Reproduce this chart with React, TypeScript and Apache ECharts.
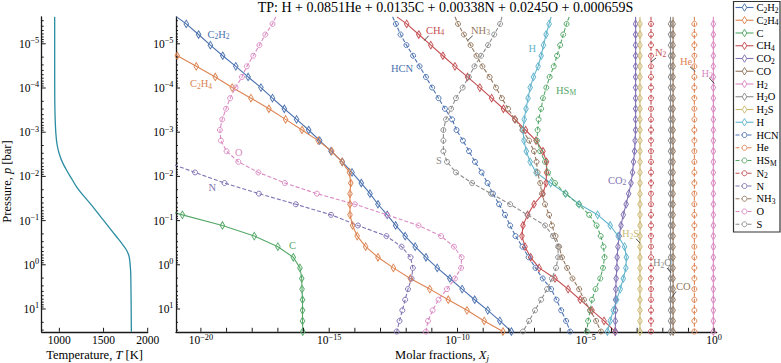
import React, { useEffect, useRef } from "react";
import * as echarts from "echarts";

const FONT = "'Liberation Serif', 'Times New Roman', 'DejaVu Serif', serif";
const AXIS = "#1a1a1a";

// ---------- axes extents (log10 units) ----------
const P_MIN_LOG = -5.611;
const P_MAX_LOG = 1.516;
const X_MIN_LOG = -20.97;
const X_MAX_LOG = 0.1;
const T_MIN = 800;
const T_MAX = 2000;

// ---------- tick labels ----------
const X_TICK_EXP = [-20, -19, -18, -17, -16, -15, -14, -13, -12, -11, -10, -9, -8, -7, -6, -5, -4, -3, -2, -1, 0];
const X_LABEL_EXP = [-20, -15, -10, -5, 0];
const Y_LABEL_EXP = [-5, -4, -3, -2, -1, 0, 1];
const Y_DECADES = [-6, -5, -4, -3, -2, -1, 0, 1];
const MINOR_MULT = [2, 3, 4, 5, 6, 7, 8, 9];
const T_TICKS = [1000, 1500, 2000];

// ---------- temperature profile ----------
const T_LOG_P = [-5.61, -4.5, -3.73, -3.39, -2.98, -2.71, -2.53, -2.34, -2.15, -1.96, -1.77, -1.58, -1.4, -1.21, -1.02, -0.83, -0.64, -0.49, -0.34, -0.22, -0.11, 0.04, 0.19, 0.8, 1.516];
const T_K = [947, 947, 948, 951, 960, 975, 996, 1030, 1079, 1135, 1193, 1265, 1343, 1420, 1494, 1570, 1645, 1705, 1758, 1785, 1796, 1803, 1808, 1812, 1815];

// ---------- pressure levels, log10 p [bar] ----------
const LOG_P = [-5.61, -5.45, -5.21, -4.97, -4.73, -4.49, -4.25, -4.01, -3.77, -3.53, -3.29, -3.05, -2.81, -2.57, -2.33, -2.09, -1.85, -1.61, -1.37, -1.13, -0.89, -0.65, -0.41, -0.17, 0.07, 0.31, 0.55, 0.79, 1.03, 1.27, 1.51];

// ---------- log10 molar fractions at LOG_P ----------
const C2H2 = [-20.95, -20.57, -20.09, -19.63, -19.15, -18.64, -18.16, -17.66, -17.21, -16.75, -16.27, -15.8, -15.37, -14.93, -14.49, -14.11, -13.75, -13.41, -13.1, -12.74, -12.41, -12.04, -11.65, -11.23, -10.79, -10.3, -9.82, -9.33, -8.82, -8.35, -7.9];
const C2H4 = [-23.62, -23.11, -22.37, -21.65, -20.92, -20.18, -19.44, -18.78, -18.05, -17.35, -16.7, -16.06, -15.43, -14.9, -14.5, -14.21, -14.16, -14.19, -14.19, -14.19, -14.09, -13.91, -13.58, -13.1, -12.5, -11.84, -11.08, -10.36, -9.63, -8.96, -8.23];
const C = [-44, -43, -42, -41, -40, -39, -38, -37, -36, -35, -34, -33, -32, -31, -30, -28, -26, -24, -22.3, -20.72, -19.16, -17.92, -17.0, -16.4, -16.14, -16.07, -16.06, -16.04, -16.04, -16.04, -16.03];
const CH4 = [-12.36, -11.98, -11.51, -11.04, -10.57, -10.1, -9.61, -9.13, -8.67, -8.21, -7.76, -7.35, -6.94, -6.67, -6.53, -6.53, -6.55, -6.67, -7.02, -7.27, -7.45, -7.49, -7.37, -7.15, -6.82, -6.2, -5.69, -5.22, -4.76, -4.29, -3.86];
const CO2 = [-3.06, -3.06, -3.06, -3.06, -3.06, -3.06, -3.06, -3.06, -3.06, -3.06, -3.06, -3.06, -3.08, -3.1, -3.14, -3.18, -3.24, -3.33, -3.43, -3.54, -3.63, -3.7, -3.75, -3.78, -3.79, -3.82, -3.83, -3.84, -3.84, -3.85, -3.85];
const CO = [-1.6, -1.6, -1.6, -1.6, -1.6, -1.6, -1.6, -1.6, -1.6, -1.6, -1.6, -1.6, -1.6, -1.6, -1.6, -1.6, -1.6, -1.6, -1.6, -1.6, -1.6, -1.6, -1.6, -1.6, -1.6, -1.6, -1.6, -1.6, -1.6, -1.6, -1.6];
const H2 = [-0.03, -0.03, -0.03, -0.03, -0.03, -0.03, -0.03, -0.03, -0.03, -0.03, -0.03, -0.03, -0.03, -0.03, -0.03, -0.03, -0.03, -0.03, -0.03, -0.03, -0.03, -0.03, -0.03, -0.03, -0.03, -0.03, -0.03, -0.03, -0.03, -0.03, -0.03];
const H2O = [-1.7, -1.7, -1.7, -1.7, -1.7, -1.7, -1.7, -1.7, -1.7, -1.7, -1.7, -1.7, -1.7, -1.7, -1.7, -1.7, -1.7, -1.7, -1.7, -1.7, -1.7, -1.7, -1.7, -1.7, -1.7, -1.7, -1.7, -1.7, -1.7, -1.7, -1.7];
const H2S = [-2.89, -2.89, -2.89, -2.89, -2.89, -2.89, -2.89, -2.89, -2.89, -2.89, -2.89, -2.89, -2.89, -2.89, -2.89, -2.89, -2.89, -2.89, -2.89, -2.89, -2.89, -2.89, -2.89, -2.89, -2.89, -2.89, -2.89, -2.89, -2.89, -2.89, -2.89];
const H = [-6.35, -6.43, -6.55, -6.65, -6.74, -6.86, -7.04, -7.17, -7.25, -7.33, -7.4, -7.45, -7.41, -7.32, -7.17, -6.94, -6.37, -5.79, -5.26, -4.54, -4.05, -3.74, -3.49, -3.42, -3.44, -3.54, -3.66, -3.8, -3.93, -4.05, -4.16];
const HCN = [-12.53, -12.4, -12.22, -11.99, -11.73, -11.48, -11.23, -10.99, -10.74, -10.49, -10.21, -10.04, -9.79, -9.55, -9.32, -9.06, -8.83, -8.62, -8.38, -8.15, -7.95, -7.74, -7.47, -7.23, -6.96, -6.68, -6.35, -6.14, -5.96, -5.77, -5.61];
const HE = [-0.77, -0.77, -0.77, -0.77, -0.77, -0.77, -0.77, -0.77, -0.77, -0.77, -0.77, -0.77, -0.77, -0.77, -0.77, -0.77, -0.77, -0.77, -0.77, -0.77, -0.77, -0.77, -0.77, -0.77, -0.77, -0.77, -0.77, -0.77, -0.77, -0.77, -0.77];
const HS_M = [-5.65, -5.75, -5.88, -6.0, -6.12, -6.25, -6.41, -6.54, -6.67, -6.74, -6.84, -6.88, -6.9, -6.78, -6.59, -6.47, -6.2, -5.79, -5.28, -4.87, -4.58, -4.42, -4.31, -4.27, -4.33, -4.44, -4.62, -4.76, -4.83, -4.91, -4.96];
const N2 = [-2.46, -2.46, -2.46, -2.46, -2.46, -2.46, -2.46, -2.46, -2.46, -2.46, -2.46, -2.46, -2.46, -2.46, -2.46, -2.46, -2.46, -2.46, -2.46, -2.46, -2.46, -2.46, -2.46, -2.46, -2.46, -2.46, -2.46, -2.46, -2.46, -2.46, -2.46];
const N = [-36.6, -35.8, -34.7, -33.6, -32.5, -31.4, -30.3, -29.1, -28.0, -26.9, -25.8, -24.7, -23.55, -22.46, -21.36, -20.23, -19.08, -17.74, -16.3, -14.93, -13.88, -12.77, -12.18, -11.83, -11.74, -11.79, -11.93, -12.04, -12.15, -12.26, -12.37];
const NH3 = [-10.1, -9.98, -9.75, -9.49, -9.26, -9.03, -8.75, -8.5, -8.27, -8.03, -7.76, -7.47, -7.21, -7.02, -6.92, -6.88, -6.78, -6.71, -6.59, -6.43, -6.32, -6.18, -6.04, -5.93, -5.73, -5.52, -5.26, -5.07, -4.83, -4.6, -4.41];
const O = [-17.08, -17.21, -17.49, -17.72, -17.96, -18.21, -18.4, -18.65, -18.86, -19.02, -19.17, -19.26, -19.22, -19.0, -18.54, -17.76, -16.73, -15.48, -14.0, -12.75, -11.52, -10.64, -10.14, -9.84, -9.86, -10.1, -10.41, -10.74, -10.97, -11.15, -11.23];
const S = [-8.27, -8.34, -8.57, -8.81, -9.08, -9.34, -9.56, -9.8, -10.06, -10.25, -10.45, -10.55, -10.55, -10.55, -10.41, -10.06, -9.43, -8.69, -7.95, -7.27, -6.59, -6.28, -6.08, -6.08, -6.16, -6.32, -6.51, -6.74, -6.98, -7.21, -7.45];

const SPECIES_NAMES = ["C2H2", "C2H4", "C", "CH4", "CO2", "CO", "H2", "H2O", "H2S", "H", "HCN", "He", "HS_M", "N2", "N", "NH3", "O", "S"];
const SPECIES_VALUES = [C2H2, C2H4, C, CH4, CO2, CO, H2, H2O, H2S, H, HCN, HE, HS_M, N2, N, NH3, O, S];
const PALETTE = ["#4C72B0", "#DD8452", "#55A868", "#C44E52", "#8172B3", "#937860", "#DA8BC3", "#8C8C8C", "#CCB974", "#64B5CD"];
const TITLE = "TP: H + 0.0851He + 0.0135C + 0.00338N + 0.0245O + 0.000659S";

// annotation placement (pixels): label left x, centre y, optional leader line
const ANNOTATIONS: { name: string; x: number; y: number; leader?: number[] }[] = [
  { name: "C2H2", x: 207.5, y: 34 },
  { name: "C2H4", x: 190, y: 83.5 },
  { name: "O", x: 235, y: 152.3 },
  { name: "N", x: 208.5, y: 187 },
  { name: "C", x: 289, y: 245.3 },
  { name: "HCN", x: 391, y: 68 },
  { name: "CH4", x: 426, y: 30, leader: [428.7, 35.7, 424.3, 40.5] },
  { name: "NH3", x: 471, y: 30, leader: [472.7, 35.7, 467.7, 40.5] },
  { name: "S", x: 436, y: 160.7 },
  { name: "H", x: 528.5, y: 48.5 },
  { name: "HS_M", x: 556, y: 90 },
  { name: "N2", x: 655, y: 52.3, leader: [656, 58, 651, 62] },
  { name: "He", x: 680, y: 61.7, leader: [690, 66.7, 695.3, 71.5] },
  { name: "H2", x: 701.5, y: 73.3, leader: [709.3, 78, 714.3, 83.5] },
  { name: "CO2", x: 608, y: 180.3 },
  { name: "H2S", x: 622, y: 233.7, leader: [636, 238.7, 640, 243] },
  { name: "H2O", x: 653, y: 262.7, leader: [667, 268, 671, 272.7] },
  { name: "CO", x: 676, y: 286, leader: [676, 291.5, 672.7, 296.3] },
];

function chem(name: string): string {
  const parts = name.match(/_[A-Za-z]+|[A-Za-z]+|\d+/g) || [];
  return parts
    .map((p) => (p.startsWith("_") ? `{s|${p.slice(1)}}` : /\d/.test(p) ? `{s|${p}}` : `{n|${p}}`))
    .join("");
}

function richFor(color: string, size: number) {
  return {
    n: { fontSize: size, fontFamily: FONT, fill: color, color, lineHeight: size * 1.1 },
    s: { fontSize: size * 0.72, fontFamily: FONT, fill: color, color, padding: [size * 0.5, 0, 0, 0] },
    i: { fontSize: size, fontFamily: FONT, fontStyle: "italic", fill: color, color, lineHeight: size * 1.1 },
    si: { fontSize: size * 0.72, fontFamily: FONT, fontStyle: "italic", fill: color, color, padding: [size * 0.5, 0, 0, 0] },
    e: { fontSize: size * 0.72, fontFamily: FONT, fill: color, color, padding: [0, 0, size * 0.55, 0] },
  };
}

const TICK_SIZE = 11.5;
const TICK_RICH = richFor("#000", TICK_SIZE);
const expLabel = (e: number) => `{n|10}{e|${e < 0 ? "\u2212" + -e : e}}`;

function tickSeries(xi: number, yi: number, orient: "x" | "y", fixed: number, values: number[], lens: number[], labels: string[]) {
  return {
    type: "custom",
    xAxisIndex: xi,
    yAxisIndex: yi,
    silent: true,
    z: 20,
    clip: false,
    data: values.map((v, i) => (orient === "x" ? [v, fixed, i] : [fixed, v, i])),
    renderItem: (params: any, api: any) => {
      const i = api.value(2);
      const pt = api.coord([api.value(0), api.value(1)]);
      const len = lens[i];
      const children: any[] = [];
      if (orient === "x") {
        children.push({ type: "line", shape: { x1: pt[0], y1: pt[1], x2: pt[0], y2: pt[1] - len }, style: { stroke: AXIS, lineWidth: 1 } });
      } else {
        children.push({ type: "line", shape: { x1: pt[0], y1: pt[1], x2: pt[0] + len, y2: pt[1] }, style: { stroke: AXIS, lineWidth: 1 } });
      }
      const lab = labels[i];
      if (lab) {
        children.push({
          type: "text",
          x: orient === "x" ? pt[0] : pt[0] - 2.5,
          y: orient === "x" ? pt[1] + 1.5 : pt[1],
          style: {
            text: lab,
            rich: TICK_RICH,
            fill: "#000",
            fontSize: TICK_SIZE,
            fontFamily: FONT,
            align: orient === "x" ? "center" : "right",
            verticalAlign: orient === "x" ? "top" : "middle",
          },
        });
      }
      return { type: "group", children };
    },
  };
}

function buildOption() {
  // y ticks (major + minor) in log10 p
  const yVals: number[] = [];
  const yLens: number[] = [];
  const yLabs: string[] = [];
  Y_DECADES.forEach((d) => {
    if (d >= P_MIN_LOG && d <= P_MAX_LOG) {
      yVals.push(d);
      yLens.push(4);
      yLabs.push(Y_LABEL_EXP.includes(d) ? expLabel(d) : "");
    }
    MINOR_MULT.forEach((m) => {
      const v = d + Math.log10(m);
      if (v >= P_MIN_LOG && v <= P_MAX_LOG) {
        yVals.push(v);
        yLens.push(2);
        yLabs.push("");
      }
    });
  });

  const axisCommon = {
    axisLine: { show: true, onZero: false, lineStyle: { color: AXIS, width: 1.3 } },
    axisTick: { show: false },
    axisLabel: { show: false },
    splitLine: { show: false },
  };

  const series: any[] = [];
  series.push({
    type: "line",
    xAxisIndex: 0,
    yAxisIndex: 0,
    data: T_K.map((t, i) => [t, T_LOG_P[i]]),
    showSymbol: false,
    smooth: 0.3,
    silent: true,
    lineStyle: { color: "#2a8ca0", width: 1.3 },
  });

  SPECIES_NAMES.forEach((name, k) => {
    const vals = SPECIES_VALUES[k];
    const color = PALETTE[k % 10];
    const dashed = k >= 10;
    series.push({
      type: "line",
      name,
      xAxisIndex: 1,
      yAxisIndex: 1,
      data: LOG_P.map((lp, i) => (i === 0 ? { value: [vals[i], lp], symbol: "none" } : [vals[i], lp])),
      symbol: dashed ? "circle" : "diamond",
      symbolSize: dashed ? 5 : [4.6, 7.5],
      showAllSymbol: true,
      clip: true,
      silent: true,
      lineStyle: { color, width: 1.1, type: dashed ? [4, 2] : "solid" },
      itemStyle: { color: "rgba(255,255,255,0)", borderColor: color, borderWidth: 0.95 },
      emphasis: { disabled: true },
    });
  });

  series.push(tickSeries(1, 1, "x", P_MAX_LOG, X_TICK_EXP, X_TICK_EXP.map(() => 4), X_TICK_EXP.map((e) => (X_LABEL_EXP.includes(e) ? expLabel(e) : ""))));
  series.push(tickSeries(1, 1, "y", X_MIN_LOG, yVals, yLens, yLabs));
  series.push(tickSeries(0, 0, "y", T_MIN, yVals, yLens, yLabs));
  series.push(tickSeries(0, 0, "x", P_MAX_LOG, T_TICKS, T_TICKS.map(() => 4), T_TICKS.map((t) => `{n|${t}}`)));

  // graphic: title, axis titles, annotations, legend
  const g: any[] = [];
  g.push({ type: "text", x: 445.5, y: 7, style: { text: TITLE, fill: "#000", fontSize: 14, fontFamily: FONT, align: "center", verticalAlign: "middle" } });
  const R = richFor("#000", 12.5);
  g.push({ type: "text", x: 94.5, y: 355, style: { text: "{n|Temperature, }{i|T}{n| [K]}", rich: R, fill: "#000", align: "center", verticalAlign: "middle" } });
  g.push({ type: "text", x: 442, y: 355, style: { text: "{n|Molar fractions, }{i|X}{si|j}", rich: R, fill: "#000", align: "center", verticalAlign: "middle" } });
  g.push({ type: "text", x: 7, y: 181.5, rotation: Math.PI / 2, style: { text: "{n|Pressure, }{i|p}{n| [bar]}", rich: R, fill: "#000", align: "center", verticalAlign: "middle" } });

  ANNOTATIONS.forEach((a) => {
    const k = SPECIES_NAMES.indexOf(a.name);
    const color = PALETTE[k % 10];
    g.push({ type: "text", x: a.x, y: a.y, z: 50, style: { text: chem(a.name), rich: richFor(color, 10.5), fill: color, align: "left", verticalAlign: "middle" } });
    if (a.leader) {
      g.push({ type: "line", z: 50, shape: { x1: a.leader[0], y1: a.leader[1], x2: a.leader[2], y2: a.leader[3] }, style: { stroke: "#222", lineWidth: 0.8 } });
    }
  });

  // legend
  const LX = 733.5, LY = 1.5, LW = 46.5, LH = 230.5, STEP = 12.75;
  g.push({ type: "rect", z: 60, shape: { x: LX, y: LY, width: LW, height: LH }, style: { fill: "#fff", stroke: "#333", lineWidth: 1.2 } });
  SPECIES_NAMES.forEach((name, k) => {
    const color = PALETTE[k % 10];
    const dashed = k >= 10;
    const cy = LY + 6 + k * STEP;
    g.push({ type: "line", z: 61, shape: { x1: LX + 2, y1: cy, x2: LX + 20, y2: cy }, style: { stroke: color, lineWidth: 1.1, lineDash: dashed ? [4, 2] : null } });
    const cx = LX + 11;
    if (dashed) {
      g.push({ type: "circle", z: 62, shape: { cx, cy, r: 2.5 }, style: { fill: "#fff", stroke: color, lineWidth: 0.95 } });
    } else {
      g.push({ type: "polygon", z: 62, shape: { points: [[cx, cy - 3.75], [cx + 2.3, cy], [cx, cy + 3.75], [cx - 2.3, cy]] }, style: { fill: "#fff", stroke: color, lineWidth: 0.95 } });
    }
    g.push({ type: "text", z: 62, x: LX + 23, y: cy, style: { text: chem(name), rich: richFor("#000", 10.5), fill: "#000", align: "left", verticalAlign: "middle" } });
  });

  return {
    animation: false,
    backgroundColor: "#fff",
    grid: [
      { left: 41.7, top: 16.8, width: 106, height: 315 },
      { left: 176, top: 16.8, width: 540.7, height: 315 },
    ],
    xAxis: [
      { type: "value", gridIndex: 0, min: T_MIN, max: T_MAX, ...axisCommon },
      { type: "value", gridIndex: 1, min: X_MIN_LOG, max: X_MAX_LOG, ...axisCommon },
    ],
    yAxis: [
      { type: "value", gridIndex: 0, min: P_MIN_LOG, max: P_MAX_LOG, inverse: true, ...axisCommon },
      { type: "value", gridIndex: 1, min: P_MIN_LOG, max: P_MAX_LOG, inverse: true, ...axisCommon },
    ],
    series,
    graphic: g,
  };
}

export default function App() {
  const ref = useRef<HTMLDivElement>(null);
  useEffect(() => {
    const chart = echarts.init(ref.current!, undefined, { renderer: "svg" });
    chart.setOption(buildOption() as any);
    return () => chart.dispose();
  }, []);
  return <div ref={ref} style={{ position: "fixed", left: 0, top: 0, width: 781, height: 363, background: "#fff" }} />;
}
